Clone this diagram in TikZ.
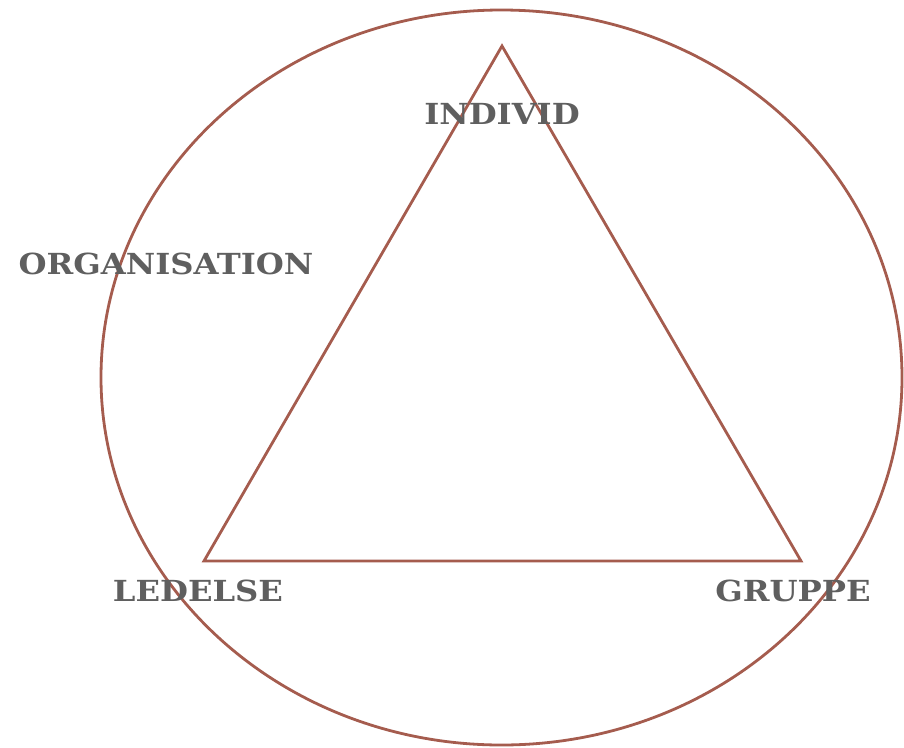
\documentclass[tikz,border=0pt]{standalone}
\usepackage{fontspec}
\setmainfont[FakeStretch=1.11]{DejaVu Serif}
\definecolor{linec}{RGB}{165,92,78}
\definecolor{textc}{RGB}{95,95,95}
\begin{document}
\begin{tikzpicture}[x=1pt,y=-1pt,
  shape line/.style={draw=linec,line width=2.8pt},
  lbl/.style={text=textc,font=\fontsize{29}{33}\selectfont\bfseries,inner sep=0pt,anchor=center}]
\useasboundingbox (0,0) rectangle (904,747);
\draw[shape line] (501.5,377.5) ellipse [x radius=400.5, y radius=367.5];
\coordinate (top) at (502,46);
\coordinate (bl) at (204,561);
\coordinate (br) at (801,561);
\draw[shape line, line join=miter] (top) -- (bl) -- (br) -- cycle;
\node[lbl] (individ) at (502,114) {INDIVID};
\node[lbl] (org) at (166,264) {ORGANISATION};
\node[lbl] (led) at (198,591) {LEDELSE};
\node[lbl] (grp) at (793,591) {GRUPPE};
\end{tikzpicture}
\end{document}
